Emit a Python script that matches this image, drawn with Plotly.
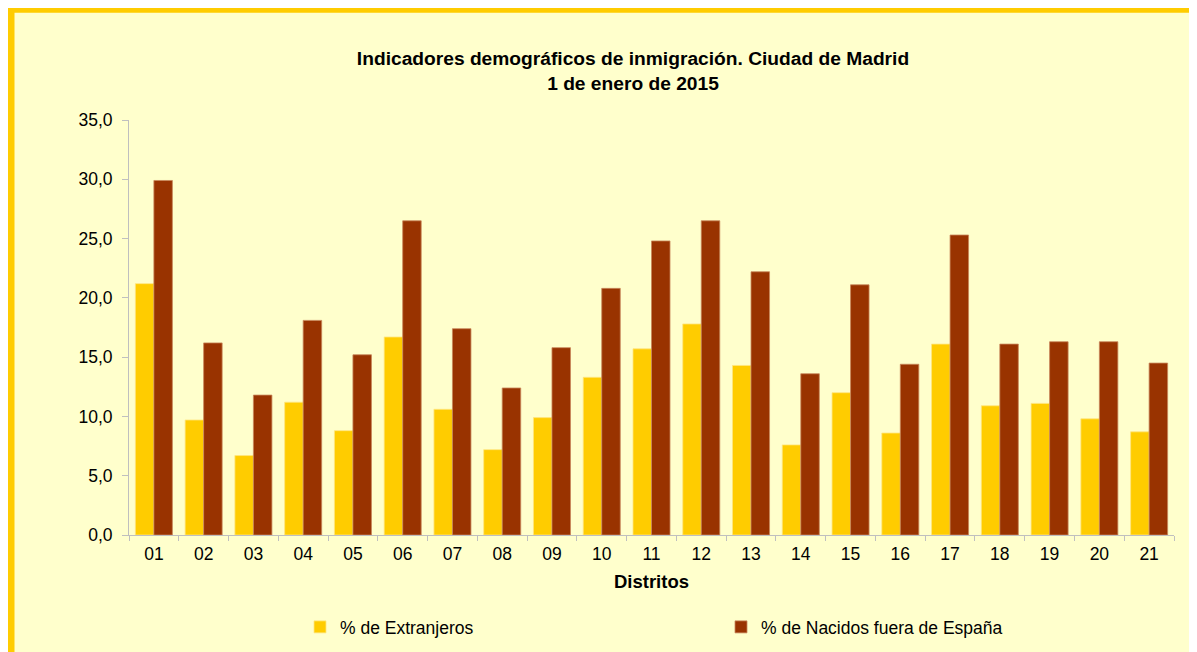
import plotly.graph_objects as go

distritos = ["01", "02", "03", "04", "05", "06", "07", "08", "09", "10", "11",
             "12", "13", "14", "15", "16", "17", "18", "19", "20", "21"]
extranjeros = [21.2, 9.7, 6.7, 11.2, 8.8, 16.7, 10.6, 7.2, 9.9, 13.3, 15.7,
               17.8, 14.3, 7.6, 12.0, 8.6, 16.1, 10.9, 11.1, 9.8, 8.7]
nacidos_fuera = [29.9, 16.2, 11.8, 18.1, 15.2, 26.5, 17.4, 12.4, 15.8, 20.8, 24.8,
                 26.5, 22.2, 13.6, 21.1, 14.4, 25.3, 16.1, 16.3, 16.3, 14.5]
y_ticks = [0, 5, 10, 15, 20, 25, 30, 35]

FONT = "Liberation Sans, Arial, sans-serif"
OFF = 8  # default page body margin
PAGE_H = 700  # figure extends below the visible window so the legend never squeezes the plot
W, H = 1197 - OFF, PAGE_H - OFF
# plot area in page coordinates
px0, px1, py0, py1 = 129, 1174, 120, 535
L, R = px0 - OFF, 1197 - px1
T, B = py0 - OFF, PAGE_H - py1
pw, ph = W - L - R, H - T - B


def xp(page_x):
    return (page_x - px0) / pw


def yp(page_y):
    return (py1 - page_y) / ph


fig = go.Figure()
fig.add_trace(go.Bar(x=distritos, y=extranjeros, name="% de Extranjeros",
                     marker=dict(color="#FFCC00", line=dict(color="#FFE680", width=0.8))))
fig.add_trace(go.Bar(x=distritos, y=nacidos_fuera, name="% de Nacidos fuera de España",
                     marker=dict(color="#993300", line=dict(color="#C8875A", width=0.8))))

# frame (yellow border, light yellow fill)
fig.add_shape(type="rect", xref="paper", yref="paper", layer="below",
              x0=xp(11), x1=xp(1240), y0=yp(PAGE_H + 40), y1=yp(9.2),
              fillcolor="#FFFFCC", line=dict(color="#FFCC00", width=7))

fig.update_layout(
    width=W, height=H,
    margin=dict(l=L, r=R, t=T, b=B),
    paper_bgcolor="white",
    plot_bgcolor="rgba(0,0,0,0)",
    separators=",.",
    barmode="group", bargap=0.256, bargroupgap=0,
    font=dict(family=FONT, size=17.5, color="black"),
    title=dict(text="<b>Indicadores demográficos de inmigración. Ciudad de Madrid<br>1 de enero de 2015</b>",
               x=(633 - OFF) / W, xanchor="center", xref="container",
               y=1 - (65 - OFF) / H, yanchor="top", yref="container",
               font=dict(family=FONT, size=19.2, color="black")),
    xaxis=dict(showline=True, linecolor="#BFBFBF", linewidth=1,
               ticks="outside", tickson="boundaries", ticklen=5, tickcolor="#BFBFBF",
               showgrid=False, ticklabelstandoff=3,
               title=dict(text="<b>Distritos</b>", standoff=12,
                          font=dict(family=FONT, size=18.5, color="black"))),
    yaxis=dict(range=[0, 35], tickvals=y_ticks, tickformat=".1f",
               showline=True, linecolor="#BFBFBF", linewidth=1,
               ticks="outside", ticklen=6, tickcolor="#BFBFBF",
               showgrid=False, zeroline=False, ticklabelstandoff=6),
    legend=dict(orientation="h", x=xp(300), xanchor="left",
                y=yp(627), yanchor="middle",
                entrywidth=376, entrywidthmode="pixels",
                bgcolor="rgba(0,0,0,0)", itemwidth=30,
                font=dict(family=FONT, size=17.5, color="black")),
)

fig.write_html("out.html")
